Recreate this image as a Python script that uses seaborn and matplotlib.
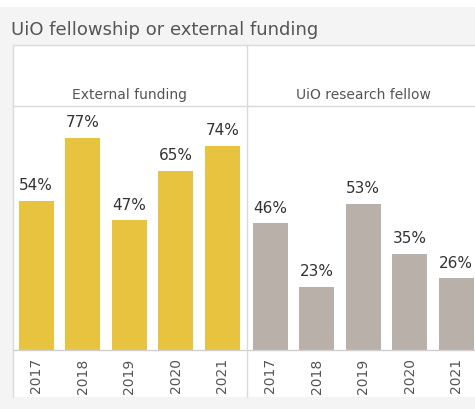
import matplotlib
matplotlib.use("Agg")
import matplotlib.pyplot as plt
from matplotlib.lines import Line2D
from matplotlib.patches import Rectangle
import seaborn as sns
import pandas as pd

years = ["2017", "2018", "2019", "2020", "2021"]
external_funding = [54, 77, 47, 65, 74]
uio_research_fellow = [46, 23, 53, 35, 26]
panel_titles = ["External funding", "UiO research fellow"]
chart_title = "UiO fellowship or external funding"

gold = "#E8C340"
taupe = "#B9B0AA"
text_col = "#333333"
light_text = "#555555"
rule_col = "#DADADA"

sns.set_theme(style="white")
plt.rcParams["font.family"] = ["DejaVu Sans"]

W, H = 475, 409
fig = plt.figure(figsize=(W / 100, H / 100), dpi=100)
fig.patch.set_facecolor("#F4F4F4")

def fx(px):
    return px / W

def fy(py):
    return 1 - py / H

# thin white strip along the top edge
fig.patches.append(Rectangle((0, fy(7)), 1, fy(0) - fy(7), transform=fig.transFigure,
                             facecolor="white", edgecolor="none", zorder=-10))
# white panel behind the two small multiples
fig.patches.append(Rectangle((fx(13), fy(397)), fx(475) - fx(13) + 0.02, fy(45) - fy(397),
                             transform=fig.transFigure, facecolor="white", edgecolor="none",
                             zorder=-10))

fig.text(fx(11), fy(30), chart_title, fontsize=13, color=light_text, va="center", ha="left")

panel_w = 232.5
lefts = [13, 247]
series = [external_funding, uio_research_fellow]
colors = [gold, taupe]

for left, vals, col, title in zip(lefts, series, colors, panel_titles):
    ax = fig.add_axes([fx(left), fy(350), panel_w / W, fy(106) - fy(350)])
    df = pd.DataFrame({"year": years, "share": vals})
    sns.barplot(data=df, x="year", y="share", color=col, width=0.75, ax=ax,
                saturation=1, edgecolor="none", linewidth=0)
    ax.set_ylim(0, 88.5)
    ax.set_xlim(-0.5, len(years) - 0.5)
    ax.set_facecolor("none")
    for s in ["top", "right", "left"]:
        ax.spines[s].set_visible(False)
    ax.spines["bottom"].set_color("#CFCFCF")
    ax.spines["bottom"].set_linewidth(1)
    ax.set_yticks([])
    ax.set_xlabel("")
    ax.set_ylabel("")
    ax.tick_params(axis="x", which="major", length=0, pad=6, labelsize=10,
                   labelcolor=light_text, labelrotation=90)
    ax.set_xticks([i + 0.5 for i in range(len(years) - 1)], minor=True)
    ax.tick_params(axis="x", which="minor", length=3.5, color="#CFCFCF", width=1)
    for lbl in ax.get_xticklabels():
        lbl.set_va("top")
    for container in ax.containers:
        ax.bar_label(container, labels=[f"{v}%" for v in vals], padding=5.5,
                     fontsize=11, color=text_col)
    fig.text(fx(left + panel_w / 2), fy(95), title, fontsize=10, color=light_text,
             ha="center", va="center")

# panel frame and header rules
for (x0, y0, x1, y1) in [(13, 45, 13, 397), (247, 45, 247, 397),
                         (13, 45, 475, 45), (13, 106, 475, 106)]:
    fig.add_artist(Line2D([fx(x0), fx(x1)], [fy(y0), fy(y1)], color=rule_col,
                          linewidth=1, transform=fig.transFigure))

fig.savefig("out.png", dpi=100, facecolor=fig.get_facecolor())
